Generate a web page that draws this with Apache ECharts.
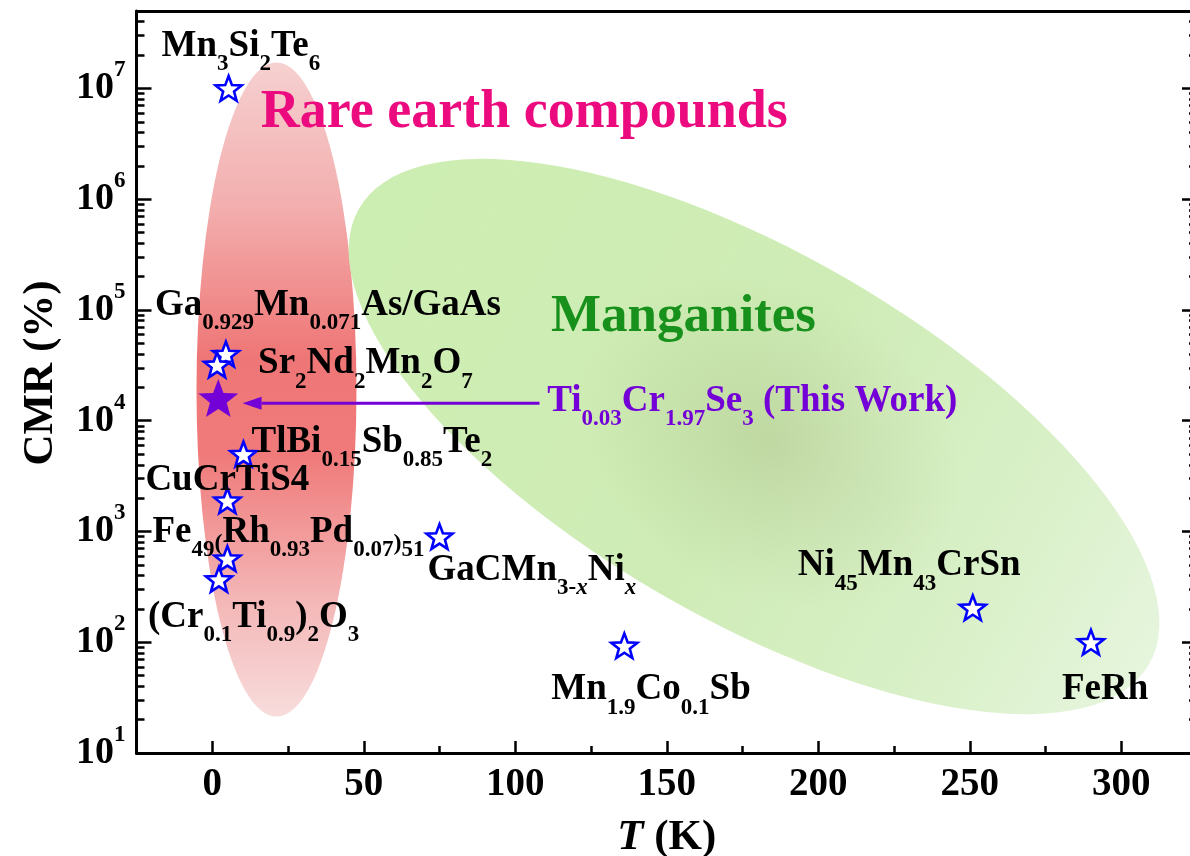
<!DOCTYPE html>
<html>
<head>
<meta charset="utf-8">
<script src="https://cdn.jsdelivr.net/npm/echarts@6/dist/echarts.min.js"></script>
<style>
  html, body { margin: 0; padding: 0; background: #ffffff; }
  #chart { width: 1190px; height: 856px; }
</style>
</head>
<body>
<div id="chart"></div>
<script>
// ---- Data: CMR magnitude vs. temperature for reported compounds ----
const compoundLabels = [
  'Mn{s|3}Si{s|2}Te{s|6}',
  'Ga{s|0.929}Mn{s|0.071}As/GaAs',
  'Sr{s|2}Nd{s|2}Mn{s|2}O{s|7}',
  'TlBi{s|0.15}Sb{s|0.85}Te{s|2}',
  'CuCrTiS4',
  'Fe{s|49}{p|(}Rh{s|0.93}Pd{s|0.07}{p|)}{s|51}',
  '(Cr{s|0.1}Ti{s|0.9}){s|2}O{s|3}',
  'GaCMn{s|3-}{si|x}Ni{si|x}',
  'Mn{s|1.9}Co{s|0.1}Sb',
  'Ni{s|45}Mn{s|43}CrSn',
  'FeRh'
];
const temperatures = [5.4, 4.5, 1.6, 10.3, 5, 5, 2.2, 75, 136, 251, 290];
const cmrValues = [1e7, 4.0e4, 3.2e4, 5000, 1900, 570, 370, 900, 93, 205, 100];

// This work
const thisWorkLabel = 'Ti{s|0.03}Cr{s|1.97}Se{s|3} (This Work)';
const thisWorkT = [2];
const thisWorkCMR = [1.6e4];

// Arrow pointing from the label back to this work's point: [T, CMR]
const arrowFrom = [108, 1.44e4];
const arrowTo = [10, 1.44e4];

// Material families and where their names sit: [T, CMR]
const regionNames = ['Rare earth compounds', 'Manganites'];
const regionCenters = [[21.2, 1.91e4], [178.8, 7.2e3]];
const regionNameAnchors = [[103, 6.0e6], [155.5, 8.6e4]];

// Axis ticks
const xMajorTicks = [0, 50, 100, 150, 200, 250, 300];
const xMinorTicks = [25, 75, 125, 175, 225, 275];
const yDecades = [1e1, 1e2, 1e3, 1e4, 1e5, 1e6, 1e7];

// ---- Styling ----
const FONT = "'Liberation Serif', 'Times New Roman', serif";
const PURPLE = '#7300d6';
const STAR = 'path://M50,0 L62.34,33.01 L97.55,34.55 L69.97,56.49 L79.39,90.45 L50,71 L20.61,90.45 L30.03,56.49 L2.45,34.55 L37.66,33.01 Z';

const yMinorTicks = [];
for (let e = 1; e <= 7; e++) {
  for (let m = 2; m <= 9; m++) {
    const v = m * Math.pow(10, e);
    if (v < 5e7) yMinorTicks.push(v);
  }
}

// Label placement relative to each star (left edge, text middle), in pixels
const labelOffsets = [
  [-67, -42], [-71, -49], [41, -1], [8, -12], [-82, -20], [-75, -26],
  [-71, 38], [-12, 34], [-73, 44], [-175, -42], [-29, 47]
];

function richStyles(color) {
  return {
    s: { fontFamily: FONT, fontWeight: 'bold', fontSize: 23, color: color, padding: [36, 0, 0, 0] },
    si: { fontFamily: FONT, fontWeight: 'bold', fontStyle: 'italic', fontSize: 23, color: color, padding: [36, 0, 0, 0] },
    p: { fontFamily: FONT, fontWeight: 'bold', fontSize: 24, color: color, padding: [22, 0, 0, 0] }
  };
}

// Region shapes: radii in pixels, tilt in degrees (clockwise)
const regionShapes = [
  {
    rx: 80, ry: 327, tilt: 0, textColor: '#ec0a7f', fontSize: 54,
    fill: {
      type: 'linear', x: 0, y: 0, x2: 0, y2: 1,
      colorStops: [
        { offset: 0, color: '#f6d0d0' },
        { offset: 0.22, color: '#f3aeae' },
        { offset: 0.45, color: '#ef7676' },
        { offset: 0.6, color: '#f07a7a' },
        { offset: 0.82, color: '#f4b6b6' },
        { offset: 1, color: '#f8dcdc' }
      ]
    },
    core: null
  },
  {
    rx: 456, ry: 183, tilt: 30, textColor: '#17911b', fontSize: 53,
    fill: {
      type: 'linear', x: 0, y: 0, x2: 1, y2: 0,
      colorStops: [
        { offset: 0, color: '#cdeeb2' },
        { offset: 0.5, color: '#cfecb6' },
        { offset: 0.8, color: '#d9f0c8' },
        { offset: 1, color: '#e6f5dd' }
      ]
    },
    core: {
      type: 'radial', x: 0.5, y: 0.5, r: 0.5,
      colorStops: [
        { offset: 0, color: 'rgba(150,165,110,0.28)' },
        { offset: 1, color: 'rgba(150,165,110,0)' }
      ]
    }
  }
];

const axisLine = { show: true, onZero: false, lineStyle: { color: '#000', width: 3 } };
const noLine = { show: false, onZero: false };
const tickStyle = { color: '#000', width: 2.5 };

const chart = echarts.init(document.getElementById('chart'), null, { renderer: 'canvas' });

const option = {
  backgroundColor: '#ffffff',
  animation: false,
  grid: { left: 136.5, right: -7, top: 11, bottom: 103, containLabel: false, outerBoundsMode: 'none' },
  xAxis: [
    {
      type: 'value', min: -25, max: 325, position: 'bottom',
      axisLine: axisLine,
      axisTick: { show: true, inside: true, length: 12, lineStyle: tickStyle, customValues: xMajorTicks },
      axisLabel: {
        show: true, customValues: xMajorTicks, margin: 12,
        fontFamily: FONT, fontWeight: 'bold', fontSize: 39, color: '#000'
      },
      splitLine: { show: false },
      name: '{i|T} (K)', nameLocation: 'middle', nameGap: 63,
      nameTextStyle: {
        fontFamily: FONT, fontWeight: 'bold', fontSize: 43, color: '#000',
        rich: { i: { fontFamily: FONT, fontWeight: 'bold', fontStyle: 'italic', fontSize: 43, color: '#000' } }
      }
    },
    {
      type: 'value', min: -25, max: 325, position: 'bottom',
      axisLine: noLine,
      axisTick: { show: true, inside: true, length: 7, lineStyle: tickStyle, customValues: xMinorTicks },
      axisLabel: { show: false },
      splitLine: { show: false }
    },
    {
      type: 'value', min: -25, max: 325, position: 'top',
      axisLine: axisLine,
      axisTick: { show: false }, axisLabel: { show: false }, splitLine: { show: false }
    }
  ],
  yAxis: [
    {
      type: 'log', min: 10, max: 5e7, position: 'left',
      axisLine: axisLine,
      axisTick: { show: true, inside: true, length: 15, lineStyle: tickStyle, customValues: yDecades },
      minorTick: { show: false },
      axisLabel: {
        show: true, customValues: yDecades, margin: 11,
        formatter: function (v) { return '{b|10}{sup|' + Math.round(Math.log10(v)) + '}'; },
        rich: {
          b: { fontFamily: FONT, fontWeight: 'bold', fontSize: 38, color: '#000' },
          sup: { fontFamily: FONT, fontWeight: 'bold', fontSize: 23, color: '#000', padding: [0, 0, 36, 0] }
        }
      },
      splitLine: { show: false },
      name: 'CMR (%)', nameLocation: 'middle', nameGap: 74,
      nameTextStyle: { fontFamily: FONT, fontWeight: 'bold', fontSize: 43, color: '#000', padding: [0, 0, 0, 18] }
    },
    {
      type: 'log', min: 10, max: 5e7, position: 'left',
      axisLine: noLine,
      axisTick: { show: true, inside: true, length: 8, lineStyle: tickStyle, customValues: yMinorTicks },
      axisLabel: { show: false }, splitLine: { show: false }
    },
    {
      type: 'log', min: 10, max: 5e7, position: 'right',
      axisLine: axisLine,
      axisTick: { show: true, inside: true, length: 15, lineStyle: tickStyle, customValues: yDecades },
      axisLabel: { show: false }, splitLine: { show: false }
    },
    {
      type: 'log', min: 10, max: 5e7, position: 'right',
      axisLine: noLine,
      axisTick: { show: true, inside: true, length: 8, lineStyle: tickStyle, customValues: yMinorTicks },
      axisLabel: { show: false }, splitLine: { show: false }
    }
  ],
  series: [
    {
      // shaded regions for the two material families
      type: 'custom', name: 'regions', z: 1, silent: true, clip: false,
      xAxisIndex: 0, yAxisIndex: 0,
      data: regionCenters.map(function (c, i) { return [c[0], c[1], regionNameAnchors[i][0], regionNameAnchors[i][1]]; }),
      encode: { x: [0, 2], y: [1, 3] },
      renderItem: function (params, api) {
        const shape = regionShapes[params.dataIndex];
        const c = api.coord([api.value(0), api.value(1)]);
        const t = api.coord([api.value(2), api.value(3)]);
        const rot = -shape.tilt * Math.PI / 180;
        const children = [
          {
            type: 'circle',
            shape: { cx: 0, cy: 0, r: shape.rx },
            x: c[0], y: c[1],
            scaleX: 1, scaleY: shape.ry / shape.rx,
            rotation: rot,
            style: { fill: shape.fill }
          }
        ];
        if (shape.core) {
          children.push({
            type: 'circle',
            shape: { cx: 0, cy: 0, r: shape.rx * 0.45 },
            x: c[0] + 15, y: c[1] + 5,
            scaleX: 1, scaleY: 0.75,
            rotation: rot,
            style: { fill: shape.core }
          });
        }
        children.push({
          type: 'text', x: t[0], y: t[1], z2: 10,
          style: {
            text: regionNames[params.dataIndex],
            fill: shape.textColor,
            font: 'bold ' + shape.fontSize + 'px ' + FONT,
            align: 'center', verticalAlign: 'middle'
          }
        });
        return { type: 'group', children: children };
      }
    },
    {
      type: 'scatter', name: 'reported', z: 3, silent: true,
      xAxisIndex: 0, yAxisIndex: 0,
      symbol: STAR, symbolSize: 26, symbolKeepAspect: true,
      itemStyle: { color: '#ffffff', borderColor: '#0000ff', borderWidth: 2.6, opacity: 1 },
      label: {
        show: true, position: 'inside', align: 'left', verticalAlign: 'middle',
        fontFamily: FONT, fontWeight: 'bold', fontSize: 37, color: '#000',
        rich: richStyles('#000')
      },
      data: temperatures.map(function (t, i) {
        return {
          value: [t, cmrValues[i]],
          label: { offset: labelOffsets[i], formatter: compoundLabels[i] }
        };
      })
    },
    {
      type: 'scatter', name: 'this work', z: 4, silent: true,
      xAxisIndex: 0, yAxisIndex: 0,
      symbol: STAR, symbolSize: 40, symbolKeepAspect: true,
      itemStyle: { color: PURPLE, opacity: 1 },
      label: {
        show: true, position: 'inside', align: 'left', verticalAlign: 'middle',
        offset: [329, 3], formatter: thisWorkLabel,
        fontFamily: FONT, fontWeight: 'bold', fontSize: 37, color: PURPLE,
        rich: richStyles(PURPLE)
      },
      data: thisWorkT.map(function (t, i) { return [t, thisWorkCMR[i]]; })
    },
    {
      type: 'custom', name: 'arrow', z: 4, silent: true, clip: false,
      xAxisIndex: 0, yAxisIndex: 0,
      data: [[arrowFrom[0], arrowFrom[1], arrowTo[0], arrowTo[1]]],
      encode: { x: [0, 2], y: [1, 3] },
      renderItem: function (params, api) {
        const p0 = api.coord([api.value(0), api.value(1)]);
        const p1 = api.coord([api.value(2), api.value(3)]);
        const dx = p1[0] - p0[0], dy = p1[1] - p0[1];
        const len = Math.sqrt(dx * dx + dy * dy);
        const ux = dx / len, uy = dy / len;
        const head = 19, half = 6.5;
        const bx = p1[0] - ux * head, by = p1[1] - uy * head;
        return {
          type: 'group',
          children: [
            { type: 'line', shape: { x1: p0[0], y1: p0[1], x2: bx, y2: by }, style: { stroke: PURPLE, lineWidth: 3 } },
            {
              type: 'polygon',
              shape: { points: [[p1[0], p1[1]], [bx - uy * half, by + ux * half], [bx + uy * half, by - ux * half]] },
              style: { fill: PURPLE }
            }
          ]
        };
      }
    }
  ]
};

chart.setOption(option);
</script>
</body>
</html>
